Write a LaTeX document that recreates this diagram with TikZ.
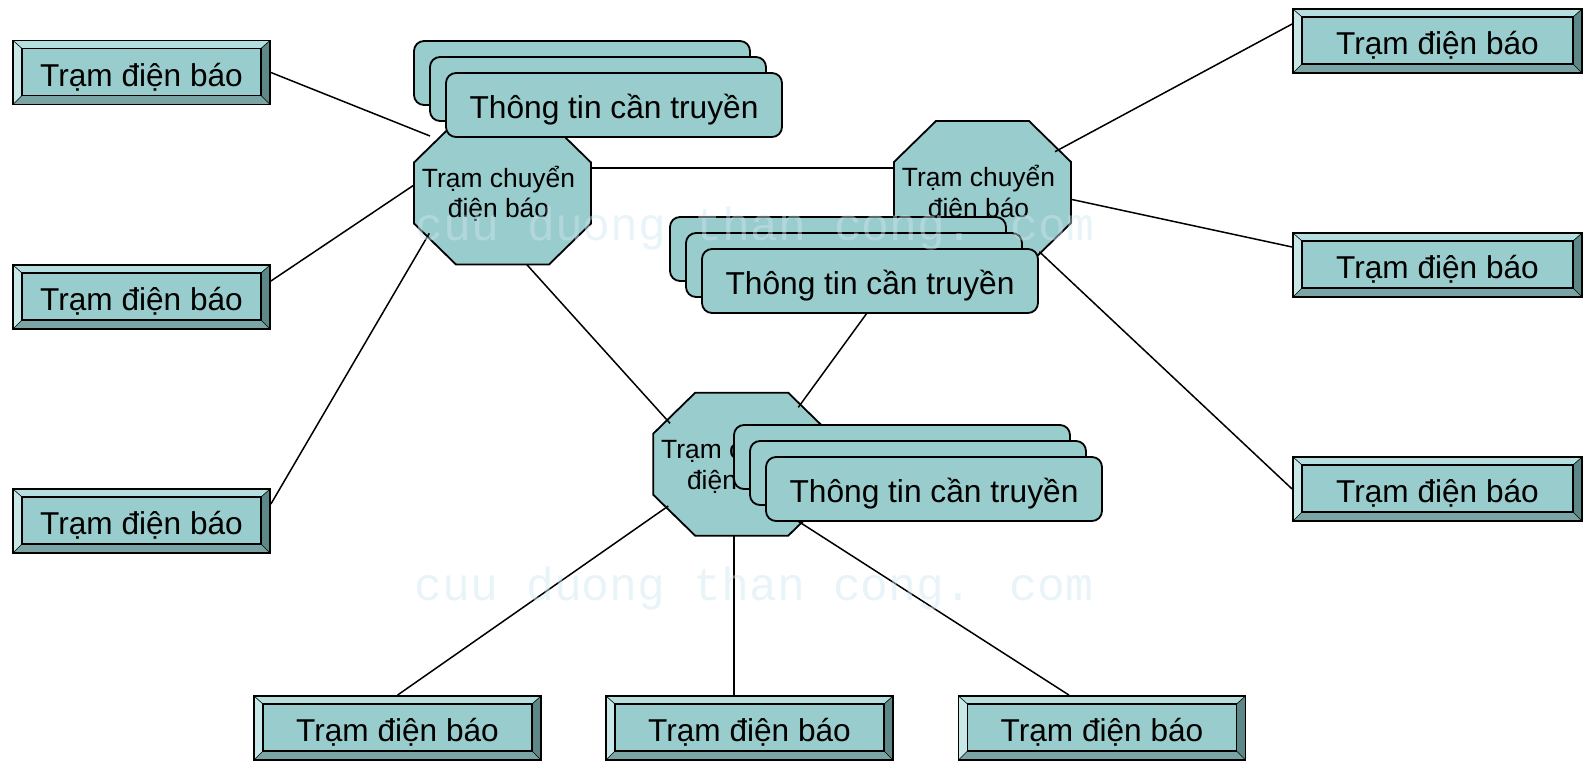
\documentclass[tikz,border=0pt]{standalone}
\usepackage{fontspec}
\setmainfont{Liberation Sans}
\newfontfamily\wmfont{Liberation Mono}
\usetikzlibrary{calc}
\definecolor{face}{HTML}{99CCCC}
\definecolor{bevtop}{HTML}{B5DEDE}
\definecolor{bevleft}{HTML}{C8E8E8}
\definecolor{bevright}{HTML}{5E8887}
\definecolor{bevbot}{HTML}{7BA5A4}
\definecolor{wm}{HTML}{CFE6F0}
\begin{document}
\begin{tikzpicture}[x=1pt,y=-1pt,
  bevbox/.style={rectangle, draw=black, line width=1.8pt, fill=face,
    minimum height=64pt, inner sep=0pt, text height=30pt, text depth=3pt,
    font=\fontsize{31.6pt}{36pt}\selectfont,
    path picture={
      \path (path picture bounding box.south west) coordinate (pp1)
            (path picture bounding box.north east) coordinate (pp2);
      \path (pp1) ++(9pt,9pt) coordinate (qq1) (pp2) ++(-9pt,-8pt) coordinate (qq2);
      \fill[bevtop] (pp1 |- pp2) -- (pp2) -- (qq2) -- (qq1 |- qq2) -- cycle;
      \fill[bevleft] (pp1) -- (pp1 |- pp2) -- (qq1 |- qq2) -- (qq1) -- cycle;
      \fill[bevright] (pp2) -- (pp2 |- pp1) -- (qq2 |- qq1) -- (qq2) -- cycle;
      \fill[bevbot] (pp1) -- (pp2 |- pp1) -- (qq2 |- qq1) -- (qq1) -- cycle;
      \draw[line width=0.6pt] (pp1) -- (qq1) (pp1 |- pp2) -- (qq1 |- qq2)
            (pp2) -- (qq2) (pp2 |- pp1) -- (qq2 |- qq1);
      \draw[line width=1.5pt] (qq1) rectangle (qq2);
    }},
  pics/octo/.style={code={
    \draw[line width=1.8pt, fill=face] (-88.5,-30.5) -- (-46.5,-71.5) -- (46.5,-71.5)
      -- (88.5,-30.5) -- (88.5,30.5) -- (46.5,71.5) -- (-46.5,71.5) -- (-88.5,30.5) -- cycle;
  }},
  octtext/.style={rectangle, minimum width=168pt, minimum height=130pt, inner sep=0pt,
    align=center, font=\fontsize{26.4pt}{30.5pt}\selectfont},
  card/.style={rectangle, rounded corners=10pt, draw=black, line width=1.8pt,
    fill=face, minimum width=336pt, minimum height=64pt, inner sep=0pt,
    text height=30pt, text depth=3pt,
    font=\fontsize{31.7pt}{36pt}\selectfont},
  conn/.style={draw=black, line width=1.5pt},
  wmark/.style={text=wm, text opacity=0.45, inner sep=0pt,
    font=\wmfont\fontsize{46.5pt}{50pt}\selectfont}
]
\useasboundingbox (0,0) rectangle (1589,761);

% telegraph stations
\node[bevbox, minimum width=257pt] (b1) at (141.5,72.5) {Trạm điện báo};
\node[bevbox, minimum width=257pt] (b2) at (141.5,297) {Trạm điện báo};
\node[bevbox, minimum width=257pt] (b3) at (141.5,521) {Trạm điện báo};
\node[bevbox, minimum width=289pt] (r1) at (1437.5,41) {Trạm điện báo};
\node[bevbox, minimum width=289pt] (r2) at (1437.5,265) {Trạm điện báo};
\node[bevbox, minimum width=289pt] (r3) at (1437.5,489) {Trạm điện báo};
\node[bevbox, minimum width=287pt] (c1) at (397.5,728) {Trạm điện báo};
\node[bevbox, minimum width=287pt] (c2) at (749.5,728) {Trạm điện báo};
\node[bevbox, minimum width=287pt] (c3) at (1102,728) {Trạm điện báo};

% switching stations (octagons)
\coordinate (oc1) at (502.5,193);
\coordinate (oc2) at (982.5,192.5);
\coordinate (oc3) at (741.7,464.2);
\pic at (oc1) {octo};
\pic at (oc2) {octo};
\pic at (oc3) {octo};
\node[octtext] (o1) at ($(oc1)+(-4,1)$) {Trạm chuyển\\điện báo};
\node[octtext] (o2) at ($(oc2)+(-4,1)$) {Trạm chuyển\\điện báo};
\node[octtext] (o3) at ($(oc3)+(-4,1)$) {Trạm chuyển\\điện báo};

% connection sites
\coordinate (s1tl) at ($(oc1)+(-72.5,-57)$);
\coordinate (s1l)  at ($(oc1)+(-88.5,-8)$);
\coordinate (s1bl) at ($(oc1)+(-73.2,40.3)$);
\coordinate (s1r)  at ($(oc1)+(88.5,-25)$);
\coordinate (s1b)  at ($(oc1)+(24.2,71.5)$);
\coordinate (s2tr) at ($(oc2)+(72.5,-40.8)$);
\coordinate (s2r)  at ($(oc2)+(88.5,6.8)$);
\coordinate (s2br) at ($(oc2)+(56.8,59.2)$);
\coordinate (s2l)  at ($(oc2)+(-88.5,-24.5)$);
\coordinate (s2bl) at ($(oc2)+(-56.5,39.5)$);
\coordinate (s3tl) at ($(oc3)+(-71.7,-40.9)$);
\coordinate (s3tr) at ($(oc3)+(56.6,-56.9)$);
\coordinate (s3bl) at ($(oc3)+(-73.4,41.8)$);
\coordinate (s3b)  at ($(oc3)+(-7.7,71.5)$);
\coordinate (s3br) at ($(oc3)+(48.3,51.8)$);

% connectors
\draw[conn] (b1.east) -- (s1tl);
\draw[conn] ([yshift=16pt]b2.east) -- (s1l);
\draw[conn] ([yshift=17pt]b3.east) -- (s1bl);
\draw[conn] (s1r) -- (s2l);
\draw[conn] (s1b) -- (s3tl);
\draw[conn] (s2tr) -- ([yshift=17pt]r1.west);
\draw[conn] (s2r) -- ([yshift=18pt]r2.west);
\draw[conn] (s2br) -- (r3.west);
\draw[conn] (s2bl) -- (s3tr);
\draw[conn] (s3bl) -- (c1.north);
\draw[conn] (s3b) -- ([xshift=-15.5pt]c2.north);
\draw[conn] (s3br) -- ([xshift=-33pt]c3.north);

% message stacks
\node[card] (k1a) at (582,73) {};
\node[card] (k1b) at (598,89) {};
\node[card] (k1c) at (614,105) {Thông tin cần truyền};
\node[card] (k2a) at (838,249) {};
\node[card] (k2b) at (854,265) {};
\node[card] (k2c) at (870,281) {Thông tin cần truyền};
\node[card] (k3a) at (902,457) {};
\node[card] (k3b) at (918,473) {};
\node[card] (k3c) at (934,489) {Thông tin cần truyền};

% watermark
\node[wmark] (w1) at (755,228) {cuu duong than cong. com};
\node[wmark] (w2) at (754,588) {cuu duong than cong. com};
\end{tikzpicture}
\end{document}
